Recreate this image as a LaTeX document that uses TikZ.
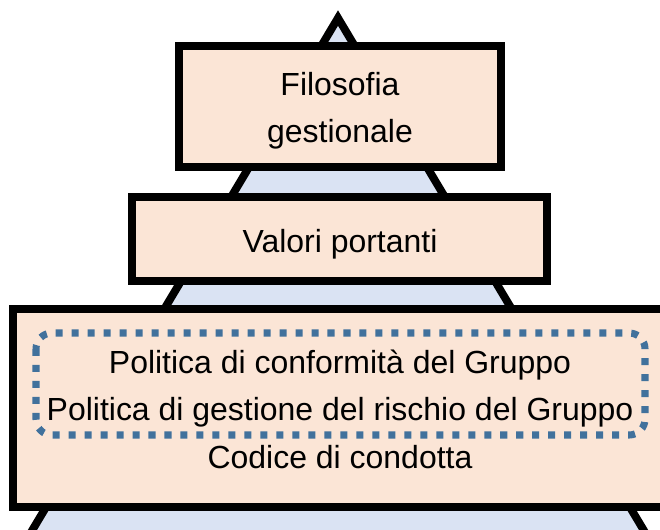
\documentclass[tikz,border=0pt]{standalone}
\usepackage{fontspec}
\setmainfont{Liberation Sans}
\definecolor{pesca}{HTML}{FBE5D6}
\definecolor{celeste}{HTML}{DAE3F3}
\definecolor{bluscuro}{HTML}{41719C}
\tikzset{
  livello/.style={draw=black, line width=4.5pt, fill=pesca},
  riga/.style={anchor=base, inner sep=0pt, font=\fontsize{18.2pt}{26pt}\selectfont},
  gruppo/.style={draw=bluscuro, line width=4pt, dash pattern=on 4pt off 5.1pt, rounded corners=9pt}
}
\begin{document}
\begin{tikzpicture}[x=0.02cm,y=-0.02cm]
                \useasboundingbox (0,0) rectangle (660,529);
                \clip (0,0) rectangle (660,529);
                \draw[line width=4.5pt, fill=celeste] (338,18) -- (14.5,560) -- (661.5,560) -- cycle; % piramide
                \draw[livello] (179,46) rectangle (501,167); % livello alto
                \draw[livello] (132,197) rectangle (547,281); % livello medio
                \draw[livello] (13,309) rectangle (667,507); % livello basso
                \draw[gruppo] (36,333) rectangle (645,435); % politiche del gruppo
                \node [riga] (filosofia) at (340,95) {Filosofia};
                \node [riga] (gestionale) at (340,142) {gestionale};
                \node [riga] (valori) at (340,252) {Valori portanti};
                \node [riga] (conformita) at (340,373) {Politica di conformità del Gruppo};
                \node [riga] (rischio) at (340,420) {Politica di gestione del rischio del Gruppo};
                \node [riga] (codice) at (340,468) {Codice di condotta};
                \end{tikzpicture}
\end{document}
